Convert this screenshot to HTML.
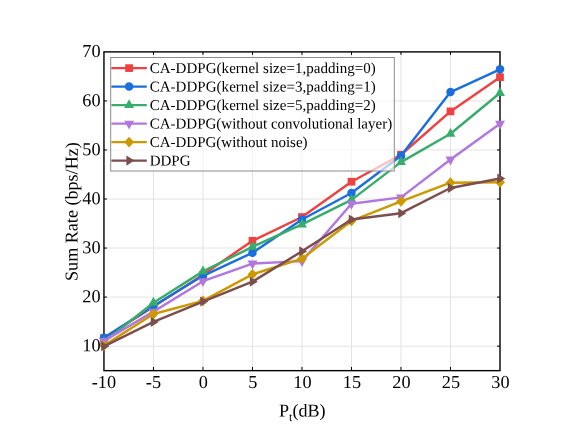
<!DOCTYPE html>
<html><head><meta charset="utf-8"><title>chart</title>
<style>
html,body{margin:0;padding:0;background:#fff;}
svg{display:block;will-change:transform;}
text{font-family:"Liberation Serif",serif;fill:#000;}
</style></head><body>
<svg width="581" height="445" viewBox="0 0 581 445">
<rect x="0" y="0" width="581" height="445" fill="#ffffff"/>

<g stroke="#e3e3e3" stroke-width="1" fill="none">
<line x1="153.46" y1="51.9" x2="153.46" y2="370.65"/>
<line x1="202.96" y1="51.9" x2="202.96" y2="370.65"/>
<line x1="252.47" y1="51.9" x2="252.47" y2="370.65"/>
<line x1="301.98" y1="51.9" x2="301.98" y2="370.65"/>
<line x1="351.48" y1="51.9" x2="351.48" y2="370.65"/>
<line x1="400.99" y1="51.9" x2="400.99" y2="370.65"/>
<line x1="450.49" y1="51.9" x2="450.49" y2="370.65"/>
<line x1="103.95" y1="346.13" x2="500.0" y2="346.13"/>
<line x1="103.95" y1="297.09" x2="500.0" y2="297.09"/>
<line x1="103.95" y1="248.05" x2="500.0" y2="248.05"/>
<line x1="103.95" y1="199.02" x2="500.0" y2="199.02"/>
<line x1="103.95" y1="149.98" x2="500.0" y2="149.98"/>
<line x1="103.95" y1="100.94" x2="500.0" y2="100.94"/>
</g>
<rect x="103.95" y="51.9" width="396.05" height="318.75" fill="none" stroke="#000" stroke-width="1.4"/>
<g stroke="#000" stroke-width="1">
<line x1="153.46" y1="370.65" x2="153.46" y2="366.95"/>
<line x1="153.46" y1="51.9" x2="153.46" y2="54.9"/>
<line x1="202.96" y1="370.65" x2="202.96" y2="366.95"/>
<line x1="202.96" y1="51.9" x2="202.96" y2="54.9"/>
<line x1="252.47" y1="370.65" x2="252.47" y2="366.95"/>
<line x1="252.47" y1="51.9" x2="252.47" y2="54.9"/>
<line x1="301.98" y1="370.65" x2="301.98" y2="366.95"/>
<line x1="301.98" y1="51.9" x2="301.98" y2="54.9"/>
<line x1="351.48" y1="370.65" x2="351.48" y2="366.95"/>
<line x1="351.48" y1="51.9" x2="351.48" y2="54.9"/>
<line x1="400.99" y1="370.65" x2="400.99" y2="366.95"/>
<line x1="400.99" y1="51.9" x2="400.99" y2="54.9"/>
<line x1="450.49" y1="370.65" x2="450.49" y2="366.95"/>
<line x1="450.49" y1="51.9" x2="450.49" y2="54.9"/>
<line x1="103.95" y1="346.13" x2="106.95" y2="346.13"/>
<line x1="500.0" y1="346.13" x2="497.0" y2="346.13"/>
<line x1="103.95" y1="297.09" x2="106.95" y2="297.09"/>
<line x1="500.0" y1="297.09" x2="497.0" y2="297.09"/>
<line x1="103.95" y1="248.05" x2="106.95" y2="248.05"/>
<line x1="500.0" y1="248.05" x2="497.0" y2="248.05"/>
<line x1="103.95" y1="199.02" x2="106.95" y2="199.02"/>
<line x1="500.0" y1="199.02" x2="497.0" y2="199.02"/>
<line x1="103.95" y1="149.98" x2="106.95" y2="149.98"/>
<line x1="500.0" y1="149.98" x2="497.0" y2="149.98"/>
<line x1="103.95" y1="100.94" x2="106.95" y2="100.94"/>
<line x1="500.0" y1="100.94" x2="497.0" y2="100.94"/>
</g>
<polyline points="103.95,338.05 153.46,306.69 202.96,274.83 252.47,240.77 301.98,217.01 351.48,181.72 400.99,154.77 450.49,111.39 500.00,77.19" fill="none" stroke="#F14040" stroke-width="2.45" stroke-linejoin="round"/>
<rect x="100.10" y="334.20" width="7.7" height="7.7" fill="#F14040"/>
<rect x="149.61" y="302.84" width="7.7" height="7.7" fill="#F14040"/>
<rect x="199.11" y="270.98" width="7.7" height="7.7" fill="#F14040"/>
<rect x="248.62" y="236.92" width="7.7" height="7.7" fill="#F14040"/>
<rect x="298.12" y="213.16" width="7.7" height="7.7" fill="#F14040"/>
<rect x="347.63" y="177.87" width="7.7" height="7.7" fill="#F14040"/>
<rect x="397.14" y="150.92" width="7.7" height="7.7" fill="#F14040"/>
<rect x="446.64" y="107.54" width="7.7" height="7.7" fill="#F14040"/>
<rect x="496.15" y="73.34" width="7.7" height="7.7" fill="#F14040"/>
<polyline points="103.95,337.66 153.46,305.95 202.96,275.82 252.47,252.78 301.98,219.46 351.48,192.99 400.99,155.75 450.49,92.09 500.00,69.30" fill="none" stroke="#1A6FDF" stroke-width="2.45" stroke-linejoin="round"/>
<circle cx="103.95" cy="337.66" r="4.25" fill="#1A6FDF"/>
<circle cx="153.46" cy="305.95" r="4.25" fill="#1A6FDF"/>
<circle cx="202.96" cy="275.82" r="4.25" fill="#1A6FDF"/>
<circle cx="252.47" cy="252.78" r="4.25" fill="#1A6FDF"/>
<circle cx="301.98" cy="219.46" r="4.25" fill="#1A6FDF"/>
<circle cx="351.48" cy="192.99" r="4.25" fill="#1A6FDF"/>
<circle cx="400.99" cy="155.75" r="4.25" fill="#1A6FDF"/>
<circle cx="450.49" cy="92.09" r="4.25" fill="#1A6FDF"/>
<circle cx="500.00" cy="69.30" r="4.25" fill="#1A6FDF"/>
<polyline points="103.95,341.98 153.46,302.77 202.96,271.40 252.47,246.90 301.98,224.46 351.48,199.85 400.99,162.12 450.49,133.79 500.00,93.02" fill="none" stroke="#37AD6B" stroke-width="2.45" stroke-linejoin="round"/>
<polygon points="103.95,336.08 99.00,344.93 108.90,344.93" fill="#37AD6B"/>
<polygon points="153.46,296.87 148.51,305.72 158.41,305.72" fill="#37AD6B"/>
<polygon points="202.96,265.50 198.01,274.35 207.91,274.35" fill="#37AD6B"/>
<polygon points="252.47,241.00 247.52,249.85 257.42,249.85" fill="#37AD6B"/>
<polygon points="301.98,218.56 297.03,227.41 306.93,227.41" fill="#37AD6B"/>
<polygon points="351.48,193.95 346.53,202.80 356.43,202.80" fill="#37AD6B"/>
<polygon points="400.99,156.22 396.04,165.07 405.94,165.07" fill="#37AD6B"/>
<polygon points="450.49,127.89 445.54,136.74 455.44,136.74" fill="#37AD6B"/>
<polygon points="500.00,87.12 495.05,95.97 504.95,95.97" fill="#37AD6B"/>
<polyline points="103.95,340.90 153.46,311.59 202.96,281.21 252.47,263.56 301.98,261.11 351.48,203.77 400.99,197.40 450.49,159.57 500.00,123.74" fill="none" stroke="#B177DE" stroke-width="2.45" stroke-linejoin="round"/>
<polygon points="103.95,346.80 99.00,337.95 108.90,337.95" fill="#B177DE"/>
<polygon points="153.46,317.49 148.51,308.64 158.41,308.64" fill="#B177DE"/>
<polygon points="202.96,287.11 198.01,278.26 207.91,278.26" fill="#B177DE"/>
<polygon points="252.47,269.46 247.52,260.61 257.42,260.61" fill="#B177DE"/>
<polygon points="301.98,267.01 297.03,258.16 306.93,258.16" fill="#B177DE"/>
<polygon points="351.48,209.67 346.53,200.82 356.43,200.82" fill="#B177DE"/>
<polygon points="400.99,203.30 396.04,194.45 405.94,194.45" fill="#B177DE"/>
<polygon points="450.49,165.47 445.54,156.62 455.44,156.62" fill="#B177DE"/>
<polygon points="500.00,129.64 495.05,120.79 504.95,120.79" fill="#B177DE"/>
<polyline points="103.95,345.60 153.46,314.04 202.96,300.81 252.47,274.34 301.98,258.66 351.48,220.93 400.99,201.32 450.49,182.70 500.00,182.31" fill="none" stroke="#CC9900" stroke-width="2.45" stroke-linejoin="round"/>
<polygon points="103.95,340.20 108.85,345.60 103.95,351.00 99.05,345.60" fill="#CC9900"/>
<polygon points="153.46,308.64 158.36,314.04 153.46,319.44 148.56,314.04" fill="#CC9900"/>
<polygon points="202.96,295.41 207.86,300.81 202.96,306.21 198.06,300.81" fill="#CC9900"/>
<polygon points="252.47,268.94 257.37,274.34 252.47,279.74 247.57,274.34" fill="#CC9900"/>
<polygon points="301.98,253.26 306.88,258.66 301.98,264.06 297.08,258.66" fill="#CC9900"/>
<polygon points="351.48,215.53 356.38,220.93 351.48,226.33 346.58,220.93" fill="#CC9900"/>
<polygon points="400.99,195.92 405.89,201.32 400.99,206.72 396.09,201.32" fill="#CC9900"/>
<polygon points="450.49,177.30 455.39,182.70 450.49,188.10 445.59,182.70" fill="#CC9900"/>
<polygon points="500.00,176.91 504.90,182.31 500.00,187.71 495.10,182.31" fill="#CC9900"/>
<polyline points="103.95,346.29 153.46,321.88 202.96,301.54 252.47,281.70 301.98,251.31 351.48,219.46 400.99,213.18 450.49,187.99 500.00,178.53" fill="none" stroke="#7D4E4E" stroke-width="2.45" stroke-linejoin="round"/>
<polygon points="109.25,346.29 101.25,341.24 101.25,351.34" fill="#7D4E4E"/>
<polygon points="158.76,321.88 150.76,316.83 150.76,326.93" fill="#7D4E4E"/>
<polygon points="208.26,301.54 200.26,296.49 200.26,306.59" fill="#7D4E4E"/>
<polygon points="257.77,281.70 249.77,276.65 249.77,286.75" fill="#7D4E4E"/>
<polygon points="307.28,251.31 299.28,246.26 299.28,256.36" fill="#7D4E4E"/>
<polygon points="356.78,219.46 348.78,214.41 348.78,224.51" fill="#7D4E4E"/>
<polygon points="406.29,213.18 398.29,208.13 398.29,218.23" fill="#7D4E4E"/>
<polygon points="455.79,187.99 447.79,182.94 447.79,193.04" fill="#7D4E4E"/>
<polygon points="505.30,178.53 497.30,173.48 497.30,183.58" fill="#7D4E4E"/>
<rect x="110.7" y="57.5" width="283.6" height="113.5" fill="#ffffff" fill-opacity="0.67" stroke="#8c8c8c" stroke-width="1"/>
<line x1="111.4" y1="68.10" x2="146.8" y2="68.10" stroke="#F14040" stroke-width="2.2"/>
<rect x="125.25" y="64.25" width="7.7" height="7.7" fill="#F14040"/>
<text transform="translate(149.7,73.00) rotate(0.03)" font-size="15" letter-spacing="0.03">CA-DDPG(kernel size=1,padding=0)</text>
<line x1="111.4" y1="86.60" x2="146.8" y2="86.60" stroke="#1A6FDF" stroke-width="2.2"/>
<circle cx="129.10" cy="86.60" r="4.25" fill="#1A6FDF"/>
<text transform="translate(149.7,91.50) rotate(0.03)" font-size="15" letter-spacing="0.03">CA-DDPG(kernel size=3,padding=1)</text>
<line x1="111.4" y1="105.10" x2="146.8" y2="105.10" stroke="#37AD6B" stroke-width="2.2"/>
<polygon points="129.10,99.20 124.15,108.05 134.05,108.05" fill="#37AD6B"/>
<text transform="translate(149.7,110.00) rotate(0.03)" font-size="15" letter-spacing="0.03">CA-DDPG(kernel size=5,padding=2)</text>
<line x1="111.4" y1="123.60" x2="146.8" y2="123.60" stroke="#B177DE" stroke-width="2.2"/>
<polygon points="129.10,129.50 124.15,120.65 134.05,120.65" fill="#B177DE"/>
<text transform="translate(149.7,128.50) rotate(0.03)" font-size="15">CA-DDPG(without convolutional layer)</text>
<line x1="111.4" y1="142.10" x2="146.8" y2="142.10" stroke="#CC9900" stroke-width="2.2"/>
<polygon points="129.10,136.70 134.00,142.10 129.10,147.50 124.20,142.10" fill="#CC9900"/>
<text transform="translate(149.7,147.00) rotate(0.03)" font-size="15">CA-DDPG(without noise)</text>
<line x1="111.4" y1="160.60" x2="146.8" y2="160.60" stroke="#7D4E4E" stroke-width="2.2"/>
<polygon points="134.40,160.60 126.40,155.55 126.40,165.65" fill="#7D4E4E"/>
<text transform="translate(149.7,165.50) rotate(0.03)" font-size="15">DDPG</text>
<text transform="translate(103.95,388.1) rotate(0.03)" font-size="18.3" text-anchor="middle">-10</text>
<text transform="translate(153.46,388.1) rotate(0.03)" font-size="18.3" text-anchor="middle">-5</text>
<text transform="translate(203.36,388.1) rotate(0.03)" font-size="18.3" text-anchor="middle">0</text>
<text transform="translate(252.87,388.1) rotate(0.03)" font-size="18.3" text-anchor="middle">5</text>
<text transform="translate(302.38,388.1) rotate(0.03)" font-size="18.3" text-anchor="middle">10</text>
<text transform="translate(351.88,388.1) rotate(0.03)" font-size="18.3" text-anchor="middle">15</text>
<text transform="translate(401.39,388.1) rotate(0.03)" font-size="18.3" text-anchor="middle">20</text>
<text transform="translate(450.89,388.1) rotate(0.03)" font-size="18.3" text-anchor="middle">25</text>
<text transform="translate(500.40,388.1) rotate(0.03)" font-size="18.3" text-anchor="middle">30</text>
<text transform="translate(100.6,351.33) rotate(0.03)" font-size="18.3" text-anchor="end">10</text>
<text transform="translate(100.6,302.29) rotate(0.03)" font-size="18.3" text-anchor="end">20</text>
<text transform="translate(100.6,253.25) rotate(0.03)" font-size="18.3" text-anchor="end">30</text>
<text transform="translate(100.6,204.22) rotate(0.03)" font-size="18.3" text-anchor="end">40</text>
<text transform="translate(100.6,155.18) rotate(0.03)" font-size="18.3" text-anchor="end">50</text>
<text transform="translate(100.6,106.14) rotate(0.03)" font-size="18.3" text-anchor="end">60</text>
<text transform="translate(100.6,57.10) rotate(0.03)" font-size="18.3" text-anchor="end">70</text>
<text transform="translate(77.6,211.6) rotate(-89.97)" font-size="18.1" text-anchor="middle">Sum Rate (bps/Hz)</text>
<text transform="translate(279,416.4) rotate(0.03)" font-size="18.1">P<tspan font-size="12" dy="4.6">t</tspan><tspan dy="-4.6">(dB)</tspan></text>
</svg></body></html>
